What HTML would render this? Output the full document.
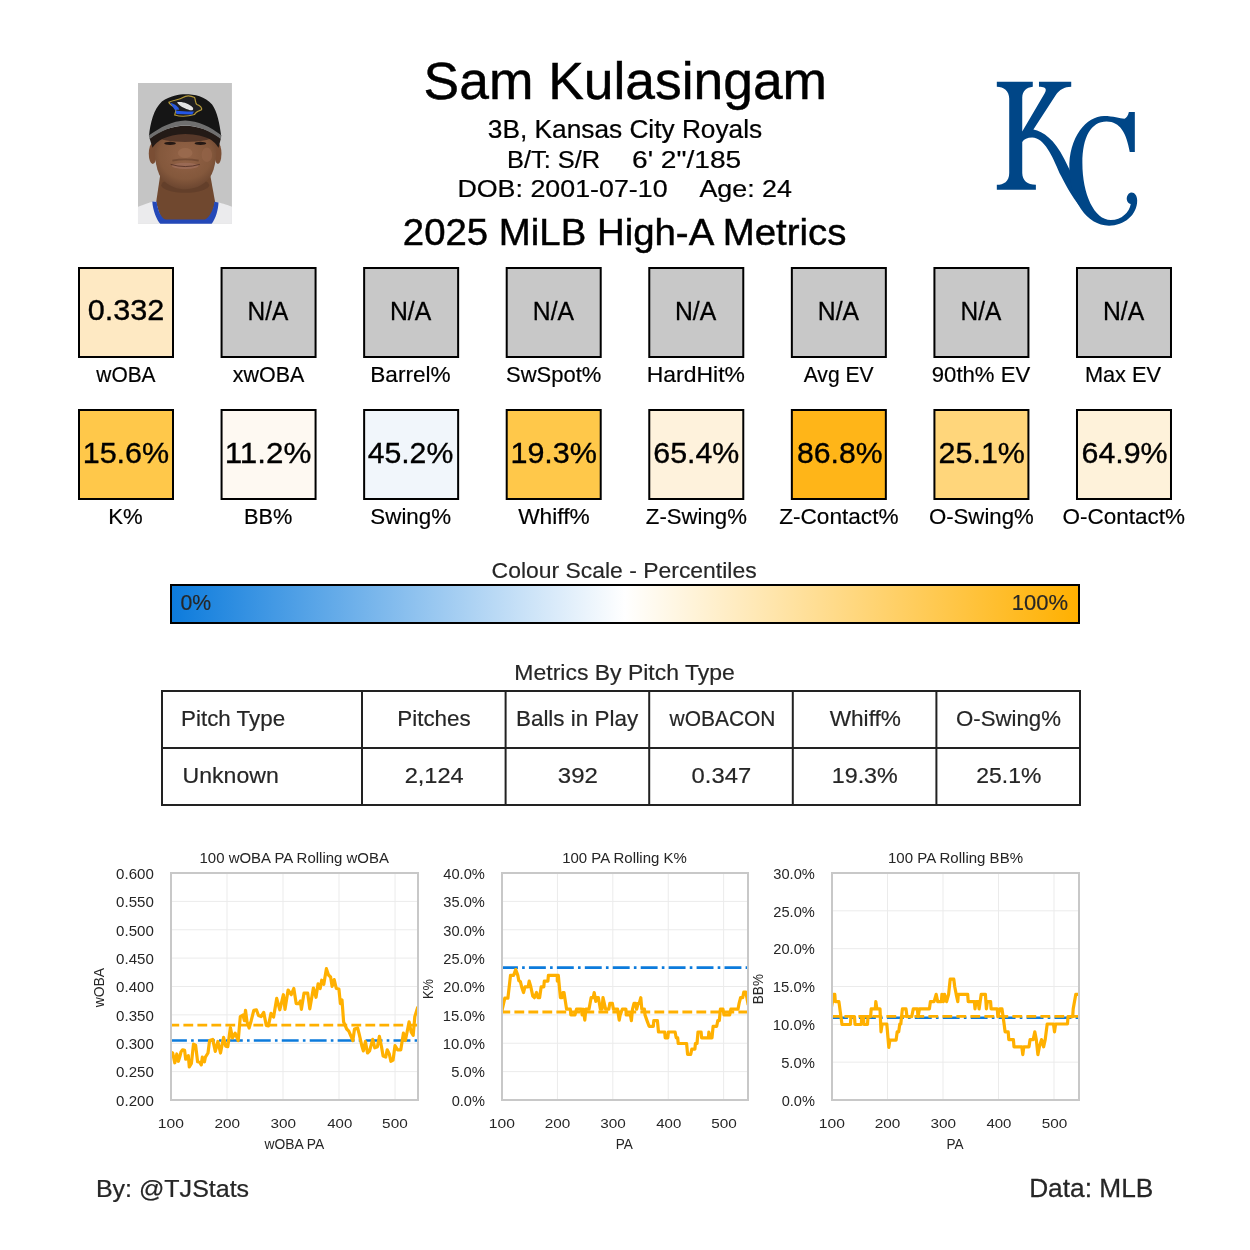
<!DOCTYPE html>
<html><head><meta charset="utf-8"><title>Sam Kulasingam - 2025 MiLB High-A Metrics</title>
<style>
html,body{margin:0;padding:0;background:#fff;width:1250px;height:1250px;overflow:hidden}
svg text{font-family:"Liberation Sans",sans-serif;}
svg{will-change:transform}
</style></head><body>
<svg width="1250" height="1250" viewBox="0 0 1250 1250" style="display:block">
<rect width="1250" height="1250" fill="#fff"/>
<g transform="translate(135,80) scale(0.11682)">
<defs><clipPath id="pc"><rect x="25" y="25" width="805" height="1205"/></clipPath>
<radialGradient id="fg" cx="0.5" cy="0.4" r="0.6"><stop offset="0" stop-color="#936347"/><stop offset="0.7" stop-color="#84583C"/><stop offset="1" stop-color="#6C4630"/></radialGradient></defs>
<g clip-path="url(#pc)">
<rect x="25" y="25" width="805" height="1205" fill="#C5C5C5"/>
<path d="M15 1090 C90 1060 140 1045 165 1035 L700 1045 C760 1060 820 1080 840 1090 L840 1240 L15 1240 Z" fill="#EBEBED"/>
<path d="M215 820 L645 820 L685 1040 C670 1150 630 1200 590 1210 L270 1210 C225 1200 200 1140 182 1040 Z" fill="#70482F"/>
<ellipse cx="430" cy="900" rx="205" ry="65" fill="#553626" opacity="0.45"/>
<path d="M148 1040 C152 1120 190 1210 225 1240 L650 1240 C690 1190 712 1115 715 1048 L680 1042 C672 1110 640 1175 598 1195 L262 1195 C220 1178 195 1115 185 1042 Z" fill="#2448B8"/>
<ellipse cx="152" cy="630" rx="34" ry="90" fill="#7A4E34"/>
<ellipse cx="710" cy="630" rx="30" ry="90" fill="#7A4E34"/>
<path d="M170 450 C160 600 170 760 225 840 C290 915 370 935 430 935 C500 935 580 910 640 835 C695 760 705 600 695 450 Z" fill="url(#fg)"/>
<ellipse cx="430" cy="480" rx="240" ry="50" fill="#4A3024" opacity="0.8"/>
<ellipse cx="430" cy="625" rx="62" ry="42" fill="#9A6A4E" opacity="0.9"/>
<ellipse cx="615" cy="640" rx="45" ry="62" fill="#946449" opacity="0.7"/>
<path d="M320 690 Q430 670 545 690" stroke="#5A3826" stroke-width="14" fill="none" opacity="0.5"/>
<ellipse cx="430" cy="735" rx="115" ry="26" fill="#9A6A55"/>
<path d="M305 722 Q430 760 555 722" stroke="#5A362A" stroke-width="8" fill="none"/>
<ellipse cx="300" cy="542" rx="50" ry="14" fill="#241814"/>
<ellipse cx="560" cy="542" rx="50" ry="14" fill="#241814"/>
<path d="M125 500 C220 430 320 395 430 392 C540 395 640 430 735 500 L715 580 C680 520 620 470 430 462 C260 470 190 520 150 580 Z" fill="#231A16"/>
<path d="M120 480 C130 370 160 250 230 185 C300 135 380 122 430 122 C510 122 600 140 660 210 C705 270 725 380 738 478 C640 410 540 370 430 368 C320 370 220 410 120 480 Z" fill="#151515"/>
<path d="M118 476 C220 400 320 350 430 346 C540 350 640 395 740 474 L735 505 C640 435 540 392 430 390 C320 392 220 435 125 505 Z" fill="#6F6F6F"/>
<path d="M290 190 C330 170 380 170 410 150 C440 130 480 135 510 150 C520 175 515 200 530 210 C560 220 575 240 570 255 C545 265 520 270 510 295 C460 310 390 315 340 300 C345 270 360 255 345 235 C320 220 295 215 290 190 Z" fill="#1F1F22" stroke="#B59A3A" stroke-width="10"/>
<path d="M300 195 C330 200 350 215 370 235 L380 255 L340 255 Z" fill="#2A5AE0"/>
<path d="M360 190 C400 180 460 200 495 235 C505 255 490 262 470 258 C430 245 380 225 360 190 Z" fill="#E4E4E4"/>
<path d="M345 262 C400 268 460 272 505 270 L490 295 L355 292 Z" fill="#2356E6"/>
</g></g>
<g transform="translate(990,75) scale(0.124)" fill="#004687">
<path d="M55 55 L345 55 L345 95 C292 100 262 130 260 182 L260 455 L440 150 C462 112 448 95 395 95 L395 55 L655 55 L655 95 C600 95 560 120 532 160 L350 440 C430 455 520 520 600 680 L645 770 L705 905 L735 1070 C650 975 600 860 560 790 C500 650 440 510 340 505 C300 505 275 520 260 540 L260 790 C262 850 300 885 370 885 L370 925 L55 925 L55 885 C110 885 155 860 155 790 L155 190 C155 130 110 95 55 95 Z"/>
<path d="M1120 298 L1168 298 L1168 620 L1127 620 C1100 470 1050 375 940 375 C815 375 745 500 745 710 C745 960 840 1170 975 1170 C1060 1170 1125 1105 1135 1040 C1100 1030 1092 985 1118 957 C1150 932 1187 960 1187 1012 C1187 1130 1080 1215 960 1215 C780 1215 645 1010 640 760 C632 500 780 330 920 330 C995 330 1045 352 1085 352 C1102 345 1115 325 1120 298 Z"/>
</g>
<text x="423.60" y="99.00" font-size="51.88" textLength="403.49" lengthAdjust="spacingAndGlyphs" fill="#000" stroke="#000" stroke-width="0.45">Sam Kulasingam</text>
<text x="487.85" y="137.80" font-size="24.93" textLength="274.31" lengthAdjust="spacingAndGlyphs" fill="#000" stroke="#000" stroke-width="0.24">3B, Kansas City Royals</text>
<text x="507.00" y="168.00" font-size="24.64" textLength="93.11" lengthAdjust="spacingAndGlyphs" fill="#000" stroke="#000" stroke-width="0.23">B/T: S/R</text>
<text x="632.00" y="168.00" font-size="24.64" textLength="109.25" lengthAdjust="spacingAndGlyphs" fill="#000" stroke="#000" stroke-width="0.23">6' 2&quot;/185</text>
<text x="457.40" y="196.80" font-size="24.49" textLength="210.17" lengthAdjust="spacingAndGlyphs" fill="#000" stroke="#000" stroke-width="0.23">DOB: 2001-07-10</text>
<text x="699.48" y="196.80" font-size="24.49" textLength="92.40" lengthAdjust="spacingAndGlyphs" fill="#000" stroke="#000" stroke-width="0.23">Age: 24</text>
<text x="402.85" y="244.80" font-size="36.81" textLength="443.58" lengthAdjust="spacingAndGlyphs" fill="#000" stroke="#000" stroke-width="0.45">2025 MiLB High-A Metrics</text>
<rect x="79.00" y="268" width="94" height="89" fill="#FEE9C3" stroke="#000" stroke-width="2"/>
<text x="87.65" y="320.00" font-size="30.09" textLength="76.70" lengthAdjust="spacingAndGlyphs" fill="#000" stroke="#000" stroke-width="0.35">0.332</text>
<text x="96.29" y="381.90" font-size="22.17" textLength="59.30" lengthAdjust="spacingAndGlyphs" fill="#000" stroke="#000" stroke-width="0.18">wOBA</text>
<rect x="221.57" y="268" width="94" height="89" fill="#C8C8C8" stroke="#000" stroke-width="2"/>
<text x="247.58" y="320.00" font-size="26.09" textLength="40.76" lengthAdjust="spacingAndGlyphs" fill="#000" stroke="#000" stroke-width="0.27">N/A</text>
<text x="232.81" y="381.90" font-size="22.17" textLength="71.50" lengthAdjust="spacingAndGlyphs" fill="#000" stroke="#000" stroke-width="0.18">xwOBA</text>
<rect x="364.14" y="268" width="94" height="89" fill="#C8C8C8" stroke="#000" stroke-width="2"/>
<text x="389.97" y="320.00" font-size="26.09" textLength="41.26" lengthAdjust="spacingAndGlyphs" fill="#000" stroke="#000" stroke-width="0.27">N/A</text>
<text x="370.30" y="381.90" font-size="22.17" textLength="80.40" lengthAdjust="spacingAndGlyphs" fill="#000" stroke="#000" stroke-width="0.18">Barrel%</text>
<rect x="506.71" y="268" width="94" height="89" fill="#C8C8C8" stroke="#000" stroke-width="2"/>
<text x="532.86" y="320.00" font-size="26.09" textLength="41.28" lengthAdjust="spacingAndGlyphs" fill="#000" stroke="#000" stroke-width="0.27">N/A</text>
<text x="506.03" y="381.90" font-size="22.17" textLength="95.39" lengthAdjust="spacingAndGlyphs" fill="#000" stroke="#000" stroke-width="0.18">SwSpot%</text>
<rect x="649.28" y="268" width="94" height="89" fill="#C8C8C8" stroke="#000" stroke-width="2"/>
<text x="674.99" y="320.00" font-size="26.09" textLength="41.28" lengthAdjust="spacingAndGlyphs" fill="#000" stroke="#000" stroke-width="0.27">N/A</text>
<text x="646.83" y="381.90" font-size="22.17" textLength="98.05" lengthAdjust="spacingAndGlyphs" fill="#000" stroke="#000" stroke-width="0.18">HardHit%</text>
<rect x="791.85" y="268" width="94" height="89" fill="#C8C8C8" stroke="#000" stroke-width="2"/>
<text x="817.87" y="320.00" font-size="26.09" textLength="41.28" lengthAdjust="spacingAndGlyphs" fill="#000" stroke="#000" stroke-width="0.27">N/A</text>
<text x="803.69" y="381.90" font-size="22.17" textLength="69.92" lengthAdjust="spacingAndGlyphs" fill="#000" stroke="#000" stroke-width="0.18">Avg EV</text>
<rect x="934.42" y="268" width="94" height="89" fill="#C8C8C8" stroke="#000" stroke-width="2"/>
<text x="960.51" y="320.00" font-size="26.09" textLength="40.76" lengthAdjust="spacingAndGlyphs" fill="#000" stroke="#000" stroke-width="0.27">N/A</text>
<text x="931.79" y="381.90" font-size="22.17" textLength="98.43" lengthAdjust="spacingAndGlyphs" fill="#000" stroke="#000" stroke-width="0.18">90th% EV</text>
<rect x="1076.99" y="268" width="94" height="89" fill="#C8C8C8" stroke="#000" stroke-width="2"/>
<text x="1102.90" y="320.00" font-size="26.09" textLength="41.28" lengthAdjust="spacingAndGlyphs" fill="#000" stroke="#000" stroke-width="0.27">N/A</text>
<text x="1084.90" y="381.90" font-size="22.17" textLength="76.16" lengthAdjust="spacingAndGlyphs" fill="#000" stroke="#000" stroke-width="0.18">Max EV</text>
<rect x="79.00" y="410" width="94" height="89" fill="#FFC84A" stroke="#000" stroke-width="2"/>
<text x="82.71" y="463.00" font-size="30.09" textLength="86.47" lengthAdjust="spacingAndGlyphs" fill="#000" stroke="#000" stroke-width="0.35">15.6%</text>
<text x="108.29" y="523.90" font-size="22.17" textLength="34.41" lengthAdjust="spacingAndGlyphs" fill="#000" stroke="#000" stroke-width="0.18">K%</text>
<rect x="221.57" y="410" width="94" height="89" fill="#FEF9F2" stroke="#000" stroke-width="2"/>
<text x="224.75" y="463.00" font-size="30.09" textLength="86.60" lengthAdjust="spacingAndGlyphs" fill="#000" stroke="#000" stroke-width="0.35">11.2%</text>
<text x="243.93" y="523.90" font-size="22.17" textLength="48.42" lengthAdjust="spacingAndGlyphs" fill="#000" stroke="#000" stroke-width="0.18">BB%</text>
<rect x="364.14" y="410" width="94" height="89" fill="#F1F6FB" stroke="#000" stroke-width="2"/>
<text x="367.65" y="463.00" font-size="30.09" textLength="85.61" lengthAdjust="spacingAndGlyphs" fill="#000" stroke="#000" stroke-width="0.35">45.2%</text>
<text x="370.36" y="523.90" font-size="22.17" textLength="80.67" lengthAdjust="spacingAndGlyphs" fill="#000" stroke="#000" stroke-width="0.18">Swing%</text>
<rect x="506.71" y="410" width="94" height="89" fill="#FFC84A" stroke="#000" stroke-width="2"/>
<text x="510.40" y="463.00" font-size="30.09" textLength="86.61" lengthAdjust="spacingAndGlyphs" fill="#000" stroke="#000" stroke-width="0.35">19.3%</text>
<text x="518.16" y="523.90" font-size="22.17" textLength="71.58" lengthAdjust="spacingAndGlyphs" fill="#000" stroke="#000" stroke-width="0.18">Whiff%</text>
<rect x="649.28" y="410" width="94" height="89" fill="#FEF2DC" stroke="#000" stroke-width="2"/>
<text x="653.30" y="463.00" font-size="30.09" textLength="86.03" lengthAdjust="spacingAndGlyphs" fill="#000" stroke="#000" stroke-width="0.35">65.4%</text>
<text x="645.87" y="523.90" font-size="22.17" textLength="101.07" lengthAdjust="spacingAndGlyphs" fill="#000" stroke="#000" stroke-width="0.18">Z-Swing%</text>
<rect x="791.85" y="410" width="94" height="89" fill="#FFB518" stroke="#000" stroke-width="2"/>
<text x="797.00" y="463.00" font-size="30.09" textLength="85.54" lengthAdjust="spacingAndGlyphs" fill="#000" stroke="#000" stroke-width="0.35">86.8%</text>
<text x="779.19" y="523.90" font-size="22.17" textLength="119.38" lengthAdjust="spacingAndGlyphs" fill="#000" stroke="#000" stroke-width="0.18">Z-Contact%</text>
<rect x="934.42" y="410" width="94" height="89" fill="#FFD67B" stroke="#000" stroke-width="2"/>
<text x="938.50" y="463.00" font-size="30.09" textLength="86.45" lengthAdjust="spacingAndGlyphs" fill="#000" stroke="#000" stroke-width="0.35">25.1%</text>
<text x="928.90" y="523.90" font-size="22.17" textLength="104.88" lengthAdjust="spacingAndGlyphs" fill="#000" stroke="#000" stroke-width="0.18">O-Swing%</text>
<rect x="1076.99" y="410" width="94" height="89" fill="#FEF2DA" stroke="#000" stroke-width="2"/>
<text x="1081.50" y="463.00" font-size="30.09" textLength="86.08" lengthAdjust="spacingAndGlyphs" fill="#000" stroke="#000" stroke-width="0.35">64.9%</text>
<text x="1062.48" y="523.90" font-size="22.17" textLength="122.40" lengthAdjust="spacingAndGlyphs" fill="#000" stroke="#000" stroke-width="0.18">O-Contact%</text>
<defs><linearGradient id="cs" x1="0" x2="1" y1="0" y2="0"><stop offset="0" stop-color="#0C7BDC"/><stop offset="0.5" stop-color="#FFFFFF"/><stop offset="1" stop-color="#FFB000"/></linearGradient></defs>
<text x="491.62" y="577.80" font-size="21.59" textLength="265.03" lengthAdjust="spacingAndGlyphs" fill="#262626" stroke="#262626" stroke-width="0.17">Colour Scale - Percentiles</text>
<rect x="171" y="585" width="908" height="38" fill="url(#cs)" stroke="#000" stroke-width="2"/>
<text x="180.45" y="609.80" font-size="22.32" textLength="30.71" lengthAdjust="spacingAndGlyphs" fill="#262626" stroke="#262626" stroke-width="0.18">0%</text>
<text x="1011.70" y="609.80" font-size="22.32" textLength="56.36" lengthAdjust="spacingAndGlyphs" fill="#262626" stroke="#262626" stroke-width="0.18">100%</text>
<text x="514.37" y="679.80" font-size="22.32" textLength="220.42" lengthAdjust="spacingAndGlyphs" fill="#262626" stroke="#262626" stroke-width="0.18">Metrics By Pitch Type</text>
<rect x="162" y="691" width="918" height="114" fill="none" stroke="#222" stroke-width="2"/>
<line x1="162" y1="748" x2="1080" y2="748" stroke="#222" stroke-width="2"/>
<line x1="362" y1="691" x2="362" y2="805" stroke="#222" stroke-width="2"/>
<line x1="505.6" y1="691" x2="505.6" y2="805" stroke="#222" stroke-width="2"/>
<line x1="649.2" y1="691" x2="649.2" y2="805" stroke="#222" stroke-width="2"/>
<line x1="792.8" y1="691" x2="792.8" y2="805" stroke="#222" stroke-width="2"/>
<line x1="936.4" y1="691" x2="936.4" y2="805" stroke="#222" stroke-width="2"/>
<text x="181.05" y="726.00" font-size="22.61" textLength="104.06" lengthAdjust="spacingAndGlyphs" fill="#262626" stroke="#262626" stroke-width="0.19">Pitch Type</text>
<text x="182.56" y="783.10" font-size="22.75" textLength="96.18" lengthAdjust="spacingAndGlyphs" fill="#262626" stroke="#262626" stroke-width="0.19">Unknown</text>
<text x="397.19" y="726.00" font-size="22.61" textLength="73.61" lengthAdjust="spacingAndGlyphs" fill="#262626" stroke="#262626" stroke-width="0.19">Pitches</text>
<text x="404.66" y="783.10" font-size="22.49" textLength="59.05" lengthAdjust="spacingAndGlyphs" fill="#262626" stroke="#262626" stroke-width="0.19">2,124</text>
<text x="515.94" y="726.00" font-size="22.61" textLength="122.25" lengthAdjust="spacingAndGlyphs" fill="#262626" stroke="#262626" stroke-width="0.19">Balls in Play</text>
<text x="557.84" y="783.10" font-size="22.49" textLength="40.04" lengthAdjust="spacingAndGlyphs" fill="#262626" stroke="#262626" stroke-width="0.19">392</text>
<text x="669.53" y="726.00" font-size="22.61" textLength="105.97" lengthAdjust="spacingAndGlyphs" fill="#262626" stroke="#262626" stroke-width="0.19">wOBACON</text>
<text x="691.61" y="783.10" font-size="22.49" textLength="59.53" lengthAdjust="spacingAndGlyphs" fill="#262626" stroke="#262626" stroke-width="0.19">0.347</text>
<text x="829.66" y="726.00" font-size="22.61" textLength="71.29" lengthAdjust="spacingAndGlyphs" fill="#262626" stroke="#262626" stroke-width="0.19">Whiff%</text>
<text x="831.74" y="783.10" font-size="22.49" textLength="66.07" lengthAdjust="spacingAndGlyphs" fill="#262626" stroke="#262626" stroke-width="0.19">19.3%</text>
<text x="956.02" y="726.00" font-size="22.61" textLength="104.98" lengthAdjust="spacingAndGlyphs" fill="#262626" stroke="#262626" stroke-width="0.19">O-Swing%</text>
<text x="976.34" y="783.10" font-size="22.49" textLength="65.10" lengthAdjust="spacingAndGlyphs" fill="#262626" stroke="#262626" stroke-width="0.19">25.1%</text>
<path d="M171 1100.00H418M171 1071.62H418M171 1043.25H418M171 1014.88H418M171 986.50H418M171 958.12H418M171 929.75H418M171 901.38H418M171 873.00H418M227.01 873V1100M283.02 873V1100M339.03 873V1100M395.04 873V1100" stroke="#EBEBEB" stroke-width="1.0" fill="none"/>
<svg x="171" y="873" width="247" height="227" viewBox="171 873 247 227" overflow="hidden">
<line x1="171" y1="1040.5" x2="418" y2="1040.5" stroke="#0C7BDC" stroke-width="2.64" stroke-dasharray="16.9 4.2 2.64 4.2" stroke-dashoffset="1.0"/>
<line x1="171" y1="1025.1" x2="418" y2="1025.1" stroke="#FFB000" stroke-width="2.8" stroke-dasharray="9.8 4.2" stroke-dashoffset="1.6"/>
<polyline points="170.0,1051.9 172.7,1053.0 174.8,1062.8 176.8,1054.0 178.4,1061.3 180.0,1056.1 181.0,1051.9 182.6,1049.8 184.6,1050.4 185.7,1059.2 188.3,1055.6 189.3,1067.0 191.4,1063.4 193.5,1044.1 195.6,1045.2 197.6,1061.8 199.7,1062.3 201.3,1064.9 202.3,1057.1 204.4,1061.8 205.4,1057.1 208.0,1053.0 209.6,1040.5 212.7,1039.4 215.3,1051.4 217.9,1041.5 220.5,1053.0 223.6,1037.4 225.7,1046.2 227.8,1046.7 230.4,1027.5 232.5,1037.9 235.1,1033.2 238.2,1040.5 240.3,1016.6 242.9,1015.0 244.4,1020.7 245.5,1010.3 247.0,1021.8 249.1,1028.0 251.2,1020.7 253.8,1010.3 256.4,1009.8 258.5,1015.5 261.1,1016.6 263.7,1012.4 266.3,1025.4 268.4,1025.9 271.0,1013.4 273.6,1017.1 276.7,998.4 279.8,1009.8 283.4,994.7 285.0,1009.3 288.1,990.0 291.2,994.7 293.8,988.5 296.2,1003.6 298.8,1003.6 300.4,1001.0 301.4,1009.3 304.0,993.2 307.7,993.2 309.8,1008.8 313.4,988.0 316.0,997.3 318.1,983.8 320.2,988.5 321.7,980.2 323.8,984.3 326.4,968.7 328.5,975.0 330.6,977.0 332.1,986.4 334.2,979.6 336.3,988.5 338.9,989.0 340.4,1003.6 342.0,999.9 343.6,1021.8 346.7,1029.0 348.8,1031.1 352.9,1040.5 354.5,1029.0 357.6,1028.0 359.2,1034.2 361.8,1045.7 363.3,1050.9 365.4,1041.5 367.5,1053.0 369.6,1050.9 372.7,1039.4 374.8,1047.8 377.4,1046.7 379.4,1036.3 381.5,1046.7 383.1,1056.1 385.7,1057.1 387.2,1049.8 389.3,1054.0 390.9,1061.3 393.0,1060.2 395.0,1045.7 397.6,1049.8 400.8,1049.8 403.4,1033.2 405.4,1040.5 409.1,1021.8 411.2,1032.2 413.2,1035.3 414.8,1016.6 417.4,1008.2" fill="none" stroke="#FFB000" stroke-width="3.2" stroke-linejoin="round" stroke-linecap="square"/>
</svg>
<rect x="171" y="873" width="247" height="227" fill="none" stroke="#C8C8C8" stroke-width="2"/>
<text x="116.13" y="1105.80" font-size="13.90" textLength="37.73" lengthAdjust="spacingAndGlyphs" fill="#262626" stroke="#262626" stroke-width="0.00">0.200</text>
<text x="116.13" y="1077.42" font-size="13.90" textLength="37.73" lengthAdjust="spacingAndGlyphs" fill="#262626" stroke="#262626" stroke-width="0.00">0.250</text>
<text x="116.13" y="1049.05" font-size="13.90" textLength="37.73" lengthAdjust="spacingAndGlyphs" fill="#262626" stroke="#262626" stroke-width="0.00">0.300</text>
<text x="116.13" y="1020.67" font-size="13.90" textLength="37.73" lengthAdjust="spacingAndGlyphs" fill="#262626" stroke="#262626" stroke-width="0.00">0.350</text>
<text x="116.13" y="992.30" font-size="13.90" textLength="37.73" lengthAdjust="spacingAndGlyphs" fill="#262626" stroke="#262626" stroke-width="0.00">0.400</text>
<text x="116.13" y="963.92" font-size="13.90" textLength="37.73" lengthAdjust="spacingAndGlyphs" fill="#262626" stroke="#262626" stroke-width="0.00">0.450</text>
<text x="116.13" y="935.55" font-size="13.90" textLength="37.73" lengthAdjust="spacingAndGlyphs" fill="#262626" stroke="#262626" stroke-width="0.00">0.500</text>
<text x="116.13" y="907.17" font-size="13.90" textLength="37.73" lengthAdjust="spacingAndGlyphs" fill="#262626" stroke="#262626" stroke-width="0.00">0.550</text>
<text x="116.13" y="878.80" font-size="13.90" textLength="37.73" lengthAdjust="spacingAndGlyphs" fill="#262626" stroke="#262626" stroke-width="0.00">0.600</text>
<text x="157.76" y="1128.00" font-size="13.61" textLength="26.10" lengthAdjust="spacingAndGlyphs" fill="#262626" stroke="#262626" stroke-width="0.00">100</text>
<text x="214.42" y="1128.00" font-size="13.61" textLength="25.53" lengthAdjust="spacingAndGlyphs" fill="#262626" stroke="#262626" stroke-width="0.00">200</text>
<text x="270.58" y="1128.00" font-size="13.61" textLength="25.53" lengthAdjust="spacingAndGlyphs" fill="#262626" stroke="#262626" stroke-width="0.00">300</text>
<text x="327.23" y="1128.00" font-size="13.61" textLength="25.01" lengthAdjust="spacingAndGlyphs" fill="#262626" stroke="#262626" stroke-width="0.00">400</text>
<text x="382.14" y="1128.00" font-size="13.61" textLength="25.60" lengthAdjust="spacingAndGlyphs" fill="#262626" stroke="#262626" stroke-width="0.00">500</text>
<text x="264.43" y="1148.90" font-size="13.77" textLength="59.75" lengthAdjust="spacingAndGlyphs" fill="#262626" stroke="#262626" stroke-width="0.00">wOBA PA</text>
<text x="199.53" y="863.00" font-size="14.49" textLength="189.45" lengthAdjust="spacingAndGlyphs" fill="#262626" stroke="#262626" stroke-width="0.01">100 wOBA PA Rolling wOBA</text>
<text transform="translate(104.10,1007.35) rotate(-90)" x="0" y="0" font-size="14.64" textLength="39.37" lengthAdjust="spacingAndGlyphs" fill="#262626">wOBA</text>
<path d="M502 1100.00H748M502 1071.62H748M502 1043.25H748M502 1014.88H748M502 986.50H748M502 958.12H748M502 929.75H748M502 901.38H748M502 873.00H748M557.41 873V1100M612.81 873V1100M668.22 873V1100M723.62 873V1100" stroke="#EBEBEB" stroke-width="1.0" fill="none"/>
<svg x="502" y="873" width="246" height="227" viewBox="502 873 246 227" overflow="hidden">
<line x1="502" y1="967.6" x2="748" y2="967.6" stroke="#0C7BDC" stroke-width="2.64" stroke-dasharray="16.9 4.2 2.64 4.2" stroke-dashoffset="1.0"/>
<line x1="502" y1="1012.0" x2="748" y2="1012.0" stroke="#FFB000" stroke-width="2.8" stroke-dasharray="9.8 4.2" stroke-dashoffset="1.6"/>
<polyline points="501.0,1014.9 504.8,998.2 507.9,998.2 510.5,975.4 513.6,975.4 515.7,969.6 517.8,975.4 518.8,980.6 520.4,981.6 521.9,987.8 523.5,992.5 525.0,986.8 528.2,986.8 529.2,981.1 530.8,986.8 532.8,996.2 534.4,997.7 536.5,992.5 538.0,997.7 539.6,997.7 541.2,986.8 543.8,986.8 544.3,981.1 547.9,981.1 548.4,975.4 557.3,975.4 557.3,981.1 558.3,975.4 560.4,997.7 562.0,997.7 563.0,992.5 564.0,992.5 566.6,1009.2 570.3,1009.2 570.8,1014.9 575.0,1014.9 576.5,1009.2 581.2,1009.2 582.2,1014.9 583.3,1009.2 584.8,1020.1 585.9,1009.2 589.0,1009.2 591.1,997.7 593.2,997.7 594.2,992.5 595.8,1001.4 596.8,997.7 598.4,997.7 600.4,1009.2 602.0,1009.2 603.0,997.7 605.6,1009.2 608.8,1009.2 609.8,1003.4 612.4,1003.4 613.4,1009.2 617.6,1009.2 619.2,1020.1 620.2,1014.9 622.3,1009.2 625.9,1009.2 626.2,1014.9 630.4,1014.9 631.4,1020.6 632.5,1009.2 634.0,1003.4 635.6,1003.4 636.6,1009.2 638.2,1003.4 639.2,1003.4 640.8,997.7 641.8,1009.2 644.4,1009.2 645.0,1014.9 647.0,1020.6 649.1,1026.3 653.3,1026.3 653.8,1020.6 657.4,1020.6 658.5,1032.0 664.7,1032.0 665.2,1037.8 667.8,1037.8 668.4,1032.0 675.1,1032.0 676.2,1037.8 677.7,1037.8 678.2,1043.5 686.6,1043.5 687.6,1054.4 690.7,1054.4 691.8,1049.2 694.9,1049.2 695.4,1043.5 697.0,1043.5 698.0,1032.0 701.1,1032.0 701.6,1037.8 708.4,1037.8 708.9,1032.0 710.0,1037.8 712.0,1037.8 713.1,1026.3 716.7,1026.3 717.8,1020.6 719.3,1020.6 720.4,1009.2 723.0,1009.2 724.0,1014.9 729.7,1014.9 730.8,1009.2 738.0,1009.2 739.1,1003.4 740.6,997.7 742.7,997.7 743.8,992.0 745.8,992.0 747.9,1003.4" fill="none" stroke="#FFB000" stroke-width="3.2" stroke-linejoin="round" stroke-linecap="square"/>
</svg>
<rect x="502" y="873" width="246" height="227" fill="none" stroke="#C8C8C8" stroke-width="2"/>
<text x="451.65" y="1105.80" font-size="13.90" textLength="33.20" lengthAdjust="spacingAndGlyphs" fill="#262626" stroke="#262626" stroke-width="0.00">0.0%</text>
<text x="451.15" y="1077.42" font-size="13.90" textLength="33.70" lengthAdjust="spacingAndGlyphs" fill="#262626" stroke="#262626" stroke-width="0.00">5.0%</text>
<text x="442.78" y="1049.05" font-size="13.90" textLength="42.15" lengthAdjust="spacingAndGlyphs" fill="#262626" stroke="#262626" stroke-width="0.00">10.0%</text>
<text x="442.78" y="1020.67" font-size="13.90" textLength="42.15" lengthAdjust="spacingAndGlyphs" fill="#262626" stroke="#262626" stroke-width="0.00">15.0%</text>
<text x="443.28" y="992.30" font-size="13.90" textLength="41.56" lengthAdjust="spacingAndGlyphs" fill="#262626" stroke="#262626" stroke-width="0.00">20.0%</text>
<text x="443.28" y="963.92" font-size="13.90" textLength="41.56" lengthAdjust="spacingAndGlyphs" fill="#262626" stroke="#262626" stroke-width="0.00">25.0%</text>
<text x="443.28" y="935.55" font-size="13.90" textLength="41.56" lengthAdjust="spacingAndGlyphs" fill="#262626" stroke="#262626" stroke-width="0.00">30.0%</text>
<text x="443.28" y="907.17" font-size="13.90" textLength="41.56" lengthAdjust="spacingAndGlyphs" fill="#262626" stroke="#262626" stroke-width="0.00">35.0%</text>
<text x="443.28" y="878.80" font-size="13.90" textLength="41.62" lengthAdjust="spacingAndGlyphs" fill="#262626" stroke="#262626" stroke-width="0.00">40.0%</text>
<text x="488.76" y="1128.00" font-size="13.61" textLength="26.10" lengthAdjust="spacingAndGlyphs" fill="#262626" stroke="#262626" stroke-width="0.00">100</text>
<text x="544.76" y="1128.00" font-size="13.61" textLength="25.53" lengthAdjust="spacingAndGlyphs" fill="#262626" stroke="#262626" stroke-width="0.00">200</text>
<text x="600.25" y="1128.00" font-size="13.61" textLength="25.56" lengthAdjust="spacingAndGlyphs" fill="#262626" stroke="#262626" stroke-width="0.00">300</text>
<text x="656.24" y="1128.00" font-size="13.61" textLength="25.01" lengthAdjust="spacingAndGlyphs" fill="#262626" stroke="#262626" stroke-width="0.00">400</text>
<text x="711.24" y="1128.00" font-size="13.61" textLength="25.60" lengthAdjust="spacingAndGlyphs" fill="#262626" stroke="#262626" stroke-width="0.00">500</text>
<text x="615.78" y="1148.90" font-size="13.77" textLength="17.12" lengthAdjust="spacingAndGlyphs" fill="#262626" stroke="#262626" stroke-width="0.00">PA</text>
<text x="562.20" y="863.00" font-size="14.49" textLength="124.61" lengthAdjust="spacingAndGlyphs" fill="#262626" stroke="#262626" stroke-width="0.01">100 PA Rolling K%</text>
<text transform="translate(432.50,999.00) rotate(-90)" x="0" y="0" font-size="13.77" textLength="20.00" lengthAdjust="spacingAndGlyphs" fill="#262626">K%</text>
<path d="M832 1100.00H1079M832 1062.17H1079M832 1024.33H1079M832 986.50H1079M832 948.67H1079M832 910.83H1079M832 873.00H1079M887.51 873V1100M943.01 873V1100M998.52 873V1100M1054.02 873V1100" stroke="#EBEBEB" stroke-width="1.0" fill="none"/>
<svg x="832" y="873" width="247" height="227" viewBox="832 873 247 227" overflow="hidden">
<line x1="832" y1="1017.7" x2="1079" y2="1017.7" stroke="#0C7BDC" stroke-width="2.64" stroke-dasharray="16.9 4.2 2.64 4.2" stroke-dashoffset="1.0"/>
<line x1="832" y1="1016.3" x2="1079" y2="1016.3" stroke="#FFB000" stroke-width="2.8" stroke-dasharray="9.8 4.2" stroke-dashoffset="1.6"/>
<polyline points="831.0,1009.9 833.7,994.3 834.8,994.3 835.3,1001.6 838.9,1001.6 842.0,1024.5 850.4,1024.5 850.9,1016.7 854.5,1016.7 855.0,1024.5 861.3,1024.5 861.8,1016.7 863.4,1016.7 863.9,1024.5 867.5,1024.5 868.0,1016.7 870.6,1016.7 871.2,1008.9 875.3,1008.9 875.8,1001.6 876.9,1008.9 880.0,1008.9 881.0,1031.8 882.1,1024.0 886.8,1024.0 888.8,1047.4 889.9,1040.1 896.1,1040.1 897.2,1031.8 898.7,1031.8 899.8,1024.0 900.8,1024.0 902.4,1008.9 906.0,1008.9 907.0,1016.7 911.7,1016.7 913.3,1008.9 917.4,1008.9 918.0,1016.7 919.5,1008.9 929.4,1008.9 930.4,1001.6 934.1,1001.6 936.2,994.3 937.7,1001.6 941.4,1001.6 941.9,994.3 943.4,1001.6 944.5,994.3 946.6,1001.6 948.6,994.3 950.2,979.2 953.8,979.2 954.7,986.5 956.2,994.3 957.8,1001.6 958.3,994.3 967.7,994.3 968.2,1001.6 974.4,1001.6 975.0,1008.9 976.0,1001.6 978.1,1001.6 979.1,1008.9 980.2,1001.6 981.2,994.3 985.4,994.3 986.4,1008.9 987.4,1001.6 990.6,1001.6 991.1,1008.9 997.3,1008.9 997.8,1016.7 999.9,1008.9 1002.0,1008.9 1004.1,1024.0 1005.1,1031.8 1008.2,1031.8 1008.8,1039.6 1013.4,1039.6 1014.0,1046.8 1021.8,1046.8 1022.8,1054.6 1023.8,1046.8 1029.0,1046.8 1030.1,1039.6 1033.2,1039.6 1034.8,1031.8 1036.3,1039.6 1037.9,1054.6 1039.4,1046.8 1041.5,1039.6 1043.6,1046.8 1045.2,1039.6 1047.2,1024.0 1053.5,1024.0 1054.5,1031.8 1055.6,1024.0 1067.5,1024.0 1068.0,1016.7 1072.7,1016.7 1073.2,1008.9 1075.8,994.3 1078.4,994.3" fill="none" stroke="#FFB000" stroke-width="3.2" stroke-linejoin="round" stroke-linecap="square"/>
</svg>
<rect x="832" y="873" width="247" height="227" fill="none" stroke="#C8C8C8" stroke-width="2"/>
<text x="781.65" y="1105.80" font-size="13.90" textLength="33.20" lengthAdjust="spacingAndGlyphs" fill="#262626" stroke="#262626" stroke-width="0.00">0.0%</text>
<text x="781.15" y="1067.97" font-size="13.90" textLength="33.70" lengthAdjust="spacingAndGlyphs" fill="#262626" stroke="#262626" stroke-width="0.00">5.0%</text>
<text x="772.77" y="1030.13" font-size="13.90" textLength="42.15" lengthAdjust="spacingAndGlyphs" fill="#262626" stroke="#262626" stroke-width="0.00">10.0%</text>
<text x="772.77" y="992.30" font-size="13.90" textLength="42.15" lengthAdjust="spacingAndGlyphs" fill="#262626" stroke="#262626" stroke-width="0.00">15.0%</text>
<text x="773.27" y="954.47" font-size="13.90" textLength="41.56" lengthAdjust="spacingAndGlyphs" fill="#262626" stroke="#262626" stroke-width="0.00">20.0%</text>
<text x="773.27" y="916.63" font-size="13.90" textLength="41.56" lengthAdjust="spacingAndGlyphs" fill="#262626" stroke="#262626" stroke-width="0.00">25.0%</text>
<text x="773.27" y="878.80" font-size="13.90" textLength="41.56" lengthAdjust="spacingAndGlyphs" fill="#262626" stroke="#262626" stroke-width="0.00">30.0%</text>
<text x="818.76" y="1128.00" font-size="13.61" textLength="26.10" lengthAdjust="spacingAndGlyphs" fill="#262626" stroke="#262626" stroke-width="0.00">100</text>
<text x="874.73" y="1128.00" font-size="13.61" textLength="25.59" lengthAdjust="spacingAndGlyphs" fill="#262626" stroke="#262626" stroke-width="0.00">200</text>
<text x="930.46" y="1128.00" font-size="13.61" textLength="25.53" lengthAdjust="spacingAndGlyphs" fill="#262626" stroke="#262626" stroke-width="0.00">300</text>
<text x="986.43" y="1128.00" font-size="13.61" textLength="25.02" lengthAdjust="spacingAndGlyphs" fill="#262626" stroke="#262626" stroke-width="0.00">400</text>
<text x="1041.65" y="1128.00" font-size="13.61" textLength="25.58" lengthAdjust="spacingAndGlyphs" fill="#262626" stroke="#262626" stroke-width="0.00">500</text>
<text x="946.41" y="1148.90" font-size="13.77" textLength="17.07" lengthAdjust="spacingAndGlyphs" fill="#262626" stroke="#262626" stroke-width="0.00">PA</text>
<text x="888.00" y="863.00" font-size="14.49" textLength="135.01" lengthAdjust="spacingAndGlyphs" fill="#262626" stroke="#262626" stroke-width="0.01">100 PA Rolling BB%</text>
<text transform="translate(762.50,1004.20) rotate(-90)" x="0" y="0" font-size="13.77" textLength="30.22" lengthAdjust="spacingAndGlyphs" fill="#262626">BB%</text>
<text x="95.90" y="1196.50" font-size="24.78" textLength="153.22" lengthAdjust="spacingAndGlyphs" fill="#262626" stroke="#262626" stroke-width="0.24">By: @TJStats</text>
<text x="1029.15" y="1196.90" font-size="25.65" textLength="124.20" lengthAdjust="spacingAndGlyphs" fill="#262626" stroke="#262626" stroke-width="0.26">Data: MLB</text>
</svg>
</body></html>
